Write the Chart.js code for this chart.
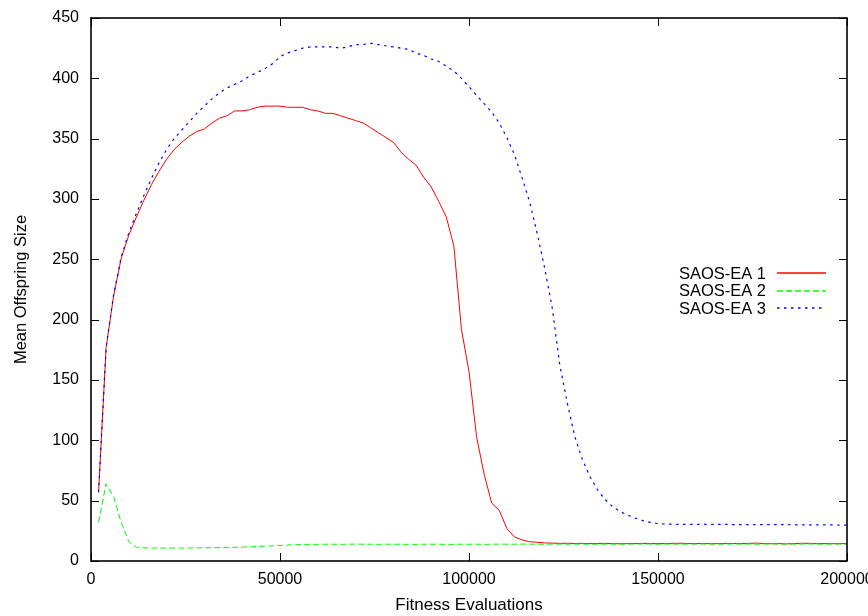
<!DOCTYPE html>
<html>
<head>
<meta charset="utf-8">
<script src="https://cdn.jsdelivr.net/npm/chart.js@4/dist/chart.umd.min.js"></script>
<style>
    html, body { margin: 0; padding: 0; background: #fff; overflow: hidden; }
    #wrap { width: 900px; height: 616px; position: relative; }
</style>
</head>
<body>
<div id="wrap"><canvas id="chart"></canvas></div>
<script>
const evaluations = [
    2000, 4000, 6000, 8000, 10000, 12000, 14000, 16000, 18000, 20000,
    22000, 24000, 26000, 28000, 30000, 32000, 34000, 36000, 38000, 40000,
    42000, 44000, 46000, 48000, 50000, 52000, 54000, 56000, 58000, 60000,
    62000, 64000, 66000, 68000, 70000, 72000, 74000, 76000, 78000, 80000,
    82000, 84000, 86000, 88000, 90000, 92000, 94000, 96000, 98000, 100000,
    102000, 104000, 106000, 108000, 110000, 112000, 114000, 116000, 118000, 120000,
    122000, 124000, 126000, 128000, 130000, 132000, 134000, 136000, 138000, 140000,
    142000, 144000, 146000, 148000, 150000, 152000, 154000, 156000, 158000, 160000,
    162000, 164000, 166000, 168000, 170000, 172000, 174000, 176000, 178000, 180000,
    182000, 184000, 186000, 188000, 190000, 192000, 194000, 196000, 198000, 200000
];

const saosEa1 = [
    57, 177, 220, 251, 270, 285, 299, 312, 323, 333,
    341, 347, 352, 356, 358, 363, 367, 369, 373, 373,
    374, 376, 377, 377, 377, 376, 376, 376, 374, 373,
    371, 371, 369, 367, 365, 363, 359, 355, 351, 347,
    339, 333, 328, 318, 310, 298, 285, 261, 192, 157,
    103, 72, 48, 42, 27, 20, 17.5, 16, 15.5, 15,
    14.8, 14.6, 14.7, 14.5, 14.6, 14.4, 14.5, 14.6, 14.4, 14.3,
    14.4, 14.5, 14.6, 14.5, 14.4, 14.5, 14.6, 14.7, 14.5, 14.4,
    14.5, 14.3, 14.4, 14.6, 14.5, 14.4, 14.6, 14.8, 14.5, 14.3,
    14.4, 14.2, 14.4, 14.7, 14.6, 14.4, 14.5, 14.3, 14.4, 14.4
];

const saosEa2 = [
    32, 64, 53, 32, 16, 11.5, 11, 10.8, 10.7, 10.7,
    10.7, 10.7, 10.8, 10.9, 11, 11, 11.1, 11.2, 11.3, 11.5,
    11.7, 12, 12.3, 12.6, 12.9, 13.2, 13.5, 13.7, 13.8, 13.8,
    13.9, 13.9, 13.8, 13.9, 14, 13.9, 13.9, 13.8, 13.9, 13.9,
    13.9, 13.8, 13.8, 13.9, 13.9, 13.9, 13.8, 13.8, 13.9, 13.9,
    13.9, 13.8, 13.9, 14, 13.9, 13.9, 14, 14, 13.9, 13.9,
    14, 14, 13.9, 14, 14, 13.9, 13.9, 14, 14, 13.9,
    14, 14, 14.1, 14, 13.9, 14, 14, 13.9, 14, 14,
    14.1, 14, 13.9, 14, 14.1, 14, 14, 13.9, 14, 14.1,
    14, 13.9, 14, 14, 14.1, 14, 13.9, 14, 14, 13.9
];

const saosEa3 = [
    57, 177, 221, 252, 272, 288, 303, 317, 330, 341,
    350, 357, 364, 371, 377, 383, 388, 392, 395, 398,
    402, 405, 408, 412, 418, 421, 423, 425, 426, 426,
    426, 426, 425, 426, 428, 428, 429, 428, 427, 426,
    425, 424, 421, 419, 416, 414, 410, 406, 400, 393,
    386, 379, 372, 363, 351, 337, 318, 298, 272, 243,
    210, 163, 131, 103, 84, 70, 59, 51, 45, 41,
    38, 35.5, 33.5, 32, 31, 30.6, 30.5, 30.4, 30.4, 30.4,
    30.3, 30.3, 30.3, 30.3, 30.2, 30.2, 30.2, 30.2, 30.1, 30.1,
    30.1, 30.1, 30, 30, 30, 30, 29.9, 29.9, 29.8, 29.8
];

const seriesLabels = ['SAOS-EA 1', 'SAOS-EA 2', 'SAOS-EA 3'];
const seriesColors = ['#ff0000', '#00ff00', '#0000ff'];
const seriesDashes = [[], [6, 3], [2.5, 4.5]];
const xTicks = [0, 50000, 100000, 150000, 200000];
const yTicks = [0, 50, 100, 150, 200, 250, 300, 350, 400, 450];

const FONT = '"Liberation Sans", Arial, Helvetica, sans-serif';

const toPoints = (ys) => ys.map((y, i) => ({ x: evaluations[i], y }));

// gnuplot style frame: box on all four sides, ticks pointing inwards
const framePlugin = {
    id: 'frame',
    afterDraw(chart) {
        const { ctx, chartArea: a, scales } = chart;
        const tick = 8;
        ctx.save();
        ctx.strokeStyle = '#000';
        ctx.lineWidth = 1;
        ctx.beginPath();
        xTicks.forEach(v => {
            const px = Math.round(scales.x.getPixelForValue(v)) + 0.5;
            ctx.moveTo(px, a.bottom); ctx.lineTo(px, a.bottom - tick);
            ctx.moveTo(px, a.top); ctx.lineTo(px, a.top + tick);
        });
        yTicks.forEach(v => {
            const py = Math.round(scales.y.getPixelForValue(v)) + 0.5;
            ctx.moveTo(a.left, py); ctx.lineTo(a.left + tick, py);
            ctx.moveTo(a.right, py); ctx.lineTo(a.right - tick, py);
        });
        ctx.stroke();
        ctx.lineWidth = 1.6;
        ctx.strokeRect(a.left, a.top, a.right - a.left, a.bottom - a.top);
        ctx.restore();
    }
};

// legend: text right aligned, then line sample
const legendPlugin = {
    id: 'keyBox',
    afterDraw(chart) {
        const { ctx, chartArea: a } = chart;
        const lineEnd = a.right - 21;
        const lineStart = lineEnd - 49;
        const textRight = lineStart - 11;
        let y = a.top + 255;
        ctx.save();
        ctx.font = '16.5px ' + FONT;
        ctx.textAlign = 'right';
        ctx.textBaseline = 'middle';
        seriesLabels.forEach((label, i) => {
            ctx.fillStyle = '#000';
            ctx.fillText(label, textRight, y + 1);
            ctx.strokeStyle = seriesColors[i];
            ctx.lineWidth = 1.5;
            ctx.setLineDash(seriesDashes[i]);
            ctx.beginPath();
            ctx.moveTo(lineStart, Math.round(y));
            ctx.lineTo(lineEnd, Math.round(y));
            ctx.stroke();
            y += 17.7;
        });
        ctx.restore();
    }
};

new Chart(document.getElementById('chart'), {
    type: 'line',
    data: {
        datasets: [saosEa1, saosEa2, saosEa3].map((values, i) => ({
            label: seriesLabels[i],
            data: toPoints(values),
            borderColor: seriesColors[i],
            borderWidth: i === 2 ? 1.2 : 1,
            borderDash: seriesDashes[i],
            order: 3 - i
        }))
    },
    options: {
        responsive: true,
        maintainAspectRatio: false,
        animation: false,
        devicePixelRatio: 1,
        layout: { padding: { left: 0, top: 18, right: 53, bottom: 0 } },
        elements: {
            point: { radius: 0 },
            line: { tension: 0, fill: false }
        },
        plugins: {
            legend: { display: false },
            tooltip: { enabled: false }
        },
        scales: {
            x: {
                type: 'linear',
                min: 0,
                max: 200000,
                afterBuildTicks: (scale) => { scale.ticks = xTicks.map(value => ({ value })); },
                afterFit: (scale) => {
                    scale.height = 55;
                    scale.paddingLeft = 0;
                    scale.paddingRight = 0;
                },
                grid: { display: false, drawTicks: false },
                border: { display: false },
                ticks: {
                    color: '#000',
                    padding: 9,
                    maxRotation: 0,
                    font: { family: FONT, size: 16 },
                    callback: (v) => String(v)
                },
                title: {
                    display: true,
                    text: 'Fitness Evaluations',
                    color: '#000',
                    font: { family: FONT, size: 17 },
                    padding: { top: 0, bottom: 0 }
                }
            },
            y: {
                min: 0,
                max: 450,
                afterBuildTicks: (scale) => { scale.ticks = yTicks.map(value => ({ value })); },
                afterFit: (scale) => {
                    scale.width = 91;
                    scale.paddingTop = 0;
                    scale.paddingBottom = 0;
                },
                grid: { display: false, drawTicks: false },
                border: { display: false },
                ticks: {
                    color: '#000',
                    padding: 12,
                    font: { family: FONT, size: 16 },
                    callback: (v) => String(v)
                },
                title: {
                    display: true,
                    text: 'Mean Offspring Size',
                    color: '#000',
                    font: { family: FONT, size: 16.5 },
                    padding: { top: 12, bottom: 0 }
                }
            }
        }
    },
    plugins: [framePlugin, legendPlugin]
});
</script>
</body>
</html>
